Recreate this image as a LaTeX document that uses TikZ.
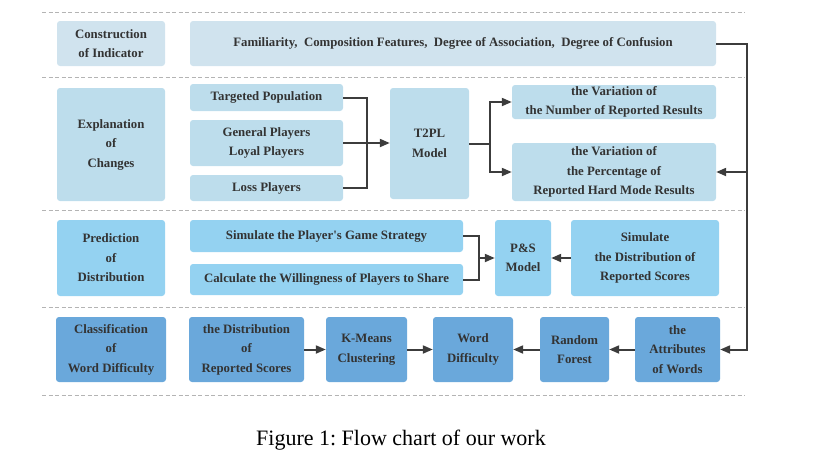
\documentclass[tikz,border=0pt]{standalone}
\usepackage{fontspec}
\setmainfont{Liberation Serif}
\usetikzlibrary{arrows.meta,calc}
\definecolor{cA}{HTML}{D0E3EE}
\definecolor{cB}{HTML}{BDDDEC}
\definecolor{cC}{HTML}{94D2F1}
\definecolor{cD}{HTML}{6AA8DB}
\definecolor{txt}{HTML}{333333}
\definecolor{lin}{HTML}{3C3C3C}
\definecolor{dsh}{HTML}{B4B4B4}
\begin{document}
\begin{tikzpicture}[x=1pt,y=-1pt,
  bx/.style={rounded corners=3pt, inner sep=0pt, align=center, text=txt,
    font=\fontsize{12.8}{19.5}\selectfont\bfseries},
  rA/.style={bx, fill=cA}, rB/.style={bx, fill=cB},
  rC/.style={bx, fill=cC}, rD/.style={bx, fill=cD},
  arr/.style={draw=lin, line width=2pt, -{Triangle[length=10pt,width=8pt]}},
  ln/.style={draw=lin, line width=2pt},
  sep/.style={draw=dsh, line width=0.8pt, dash pattern=on 4pt off 2.5pt}]
\useasboundingbox (0,0) rectangle (815,464);
% separators
\draw[sep] (42,12) -- (745,12);
\draw[sep] (42,77) -- (745,77);
\draw[sep] (42,210) -- (745,210);
\draw[sep] (42,307) -- (745,307);
\draw[sep] (42,395) -- (745,395);
% row 1
\node[rA, minimum width=108, minimum height=45] (ci) at (111,43.5) {Construction\\of Indicator};
\node[rA, minimum width=526, minimum height=45] (feat) at (453,43.5) {Familiarity,\ \ Composition Features,\ \ Degree of Association,\ \ Degree of Confusion};
% row 2
\node[rB, minimum width=108, minimum height=113] (ec) at (111,144.5) {Explanation\\of\\Changes};
\node[rB, minimum width=153, minimum height=27] (tp) at (266.5,97.5) {Targeted Population};
\node[rB, minimum width=153, minimum height=46] (gl) at (266.5,143) {General Players\\Loyal Players};
\node[rB, minimum width=153, minimum height=26] (lp) at (266.5,188) {Loss Players};
\node[rB, minimum width=79, minimum height=111] (t2pl) at (429.5,143.5) {T2PL\\Model};
\node[rB, minimum width=204, minimum height=34] (vn) at (614,102) {the Variation of\\the Number of Reported Results};
\node[rB, minimum width=204, minimum height=58] (vp) at (614,172) {the Variation of\\the Percentage of\\Reported Hard Mode Results};
% row 3
\node[rC, minimum width=108, minimum height=76] (pd) at (111,258) {Prediction\\of\\Distribution};
\node[rC, minimum width=273, minimum height=32] (ss) at (326.5,236) {Simulate the Player\textquotesingle s Game Strategy};
\node[rC, minimum width=273, minimum height=31] (cw) at (326.5,279.5) {Calculate the Willingness of Players to Share};
\node[rC, minimum width=56, minimum height=76] (ps) at (523,258) {P\&S\\Model};
\node[rC, minimum width=148, minimum height=76] (sd) at (645,258) {Simulate\\the Distribution of\\Reported Scores};
% row 4
\node[rD, minimum width=110, minimum height=65] (cl) at (111,349.5) {Classification\\of\\Word Difficulty};
\node[rD, minimum width=115, minimum height=65] (dr) at (246.5,349.5) {the Distribution\\of\\Reported Scores};
\node[rD, minimum width=81, minimum height=65] (km) at (366.5,349.5) {K-Means\\Clustering};
\node[rD, minimum width=80, minimum height=65] (wd) at (473,349.5) {Word\\Difficulty};
\node[rD, minimum width=69, minimum height=65] (rf) at (574.5,349.5) {Random\\Forest};
\node[rD, minimum width=85, minimum height=65] (aw) at (677.5,349.5) {the\\Attributes\\of Words};
% caption
\node[font=\fontsize{22}{26}\selectfont, text=black, inner sep=0pt] (cap) at (401,440) {Figure 1:\ Flow chart of our work};
% connectors
\coordinate (rx) at (747,0);
\coordinate (j1) at (367,0);
\coordinate (j2) at (490,0);
\coordinate (j3) at (479,0);
\draw[arr] (feat.east) -| (rx |- aw.east) -- (aw.east);
\draw[arr] (rx |- vp.east) -- (vp.east);
\draw[ln] (tp.east) -| (j1 |- lp.east) -- (lp.east);
\draw[arr] (gl.east) -- (t2pl.west |- gl.east);
\draw[arr] (t2pl.east) -- (j2 |- t2pl.east) |- (vn.west);
\draw[arr] (j2 |- t2pl.east) |- (vp.west);
\draw[ln] (ss.east) -| (j3 |- cw.east) -- (cw.east);
\draw[arr] (j3 |- ps.west) -- (ps.west);
\draw[arr] (sd.west) -- (ps.east);
\draw[arr] (dr.east) -- (km.west);
\draw[arr] (km.east) -- (wd.west);
\draw[arr] (rf.west) -- (wd.east);
\draw[arr] (aw.west) -- (rf.east);
\end{tikzpicture}
\end{document}
